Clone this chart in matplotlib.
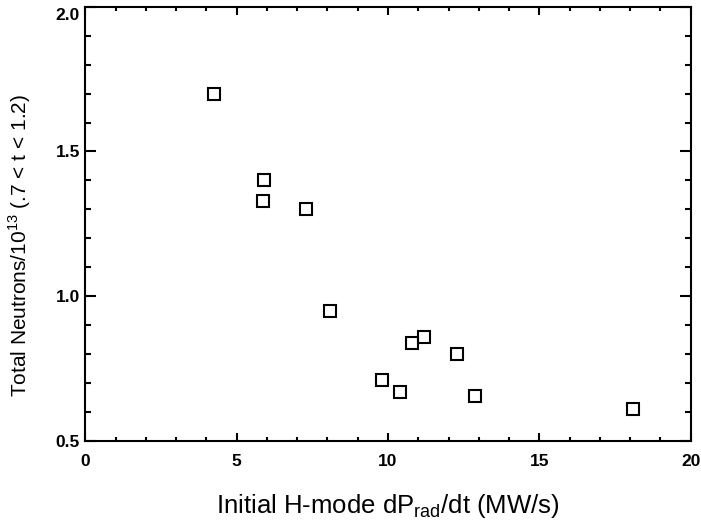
import matplotlib.pyplot as plt
from matplotlib.ticker import MultipleLocator
import matplotlib.transforms as mtransforms

plt.rcParams['font.family'] = ['Liberation Sans', 'DejaVu Sans']
plt.rcParams['mathtext.fontset'] = 'custom'
plt.rcParams['mathtext.rm'] = 'Liberation Sans'

# H-mode dPrad/dt (MW/s) vs total neutrons / 1e13
dprad = [4.26, 5.91, 5.88, 7.29, 8.08, 9.79, 10.40, 10.78, 11.19, 12.29, 12.87, 18.09]
neutrons = [1.70, 1.40, 1.33, 1.30, 0.95, 0.71, 0.67, 0.84, 0.86, 0.80, 0.655, 0.612]

fig = plt.figure(figsize=(7.01, 5.25), dpi=100)
ax = fig.add_axes([0.1217, 0.16, 0.8636, 0.8272])

ax.plot(dprad, neutrons, linestyle='none', marker='s', ms=9,
        mfc='none', mec='black', mew=1.5)

ax.set_xlim(0, 20)
ax.set_ylim(0.5, 2.0)
ax.xaxis.set_major_locator(MultipleLocator(5))
ax.xaxis.set_minor_locator(MultipleLocator(1))
ax.yaxis.set_major_locator(MultipleLocator(0.5))
ax.yaxis.set_minor_locator(MultipleLocator(0.1))
ax.xaxis.set_major_formatter(plt.FuncFormatter(lambda v, p: f"{v:.0f}"))
ax.yaxis.set_major_formatter(plt.FuncFormatter(lambda v, p: f"{v:.1f}"))

ax.tick_params(which='both', direction='in', top=True, right=True,
               width=1.5, labelsize=12.5)
ax.tick_params(axis='x', which='major', length=6, pad=9)
ax.tick_params(axis='x', which='minor', length=3)
ax.tick_params(axis='y', which='major', length=8, pad=4)
ax.tick_params(axis='y', which='minor', length=4.5)
for lbl in ax.get_xticklabels() + ax.get_yticklabels():
    lbl.set_fontweight('bold')
for s in ax.spines.values():
    s.set_linewidth(1.5)

# nudge the top y label down like the original
fig.canvas.draw()
for lbl in ax.get_yticklabels():
    if lbl.get_text() == "2.0":
        lbl.set_transform(lbl.get_transform() +
                          mtransforms.ScaledTranslation(0, -5 / 72, fig.dpi_scale_trans))

ax.set_xlabel("Initial H-mode dP$_{\\mathrm{rad}}$/dt (MW/s)", fontsize=18.5)
ax.set_ylabel("Total Neutrons/10$^{13}$ (.7 < t < 1.2)", fontsize=15)
ax.xaxis.set_label_coords(0.499, -0.118)
ax.yaxis.set_label_coords(-0.0864, 0.451)

fig.savefig("out.png", dpi=100)
